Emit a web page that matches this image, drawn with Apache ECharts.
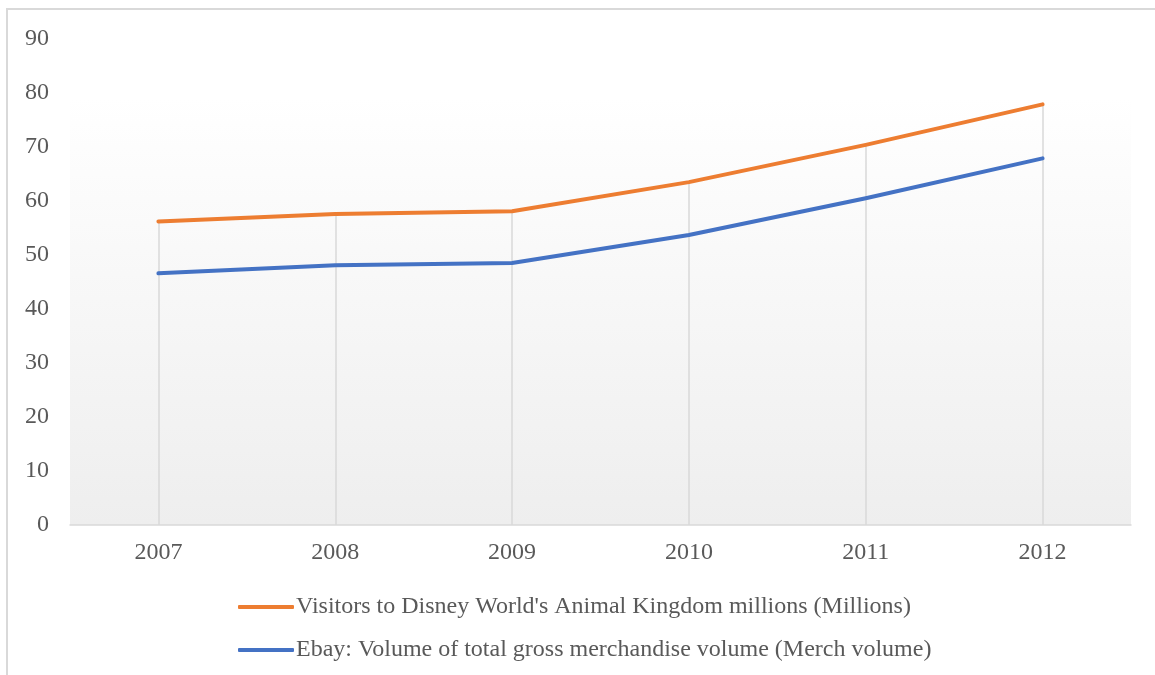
<!DOCTYPE html>
<html>
<head>
<meta charset="utf-8">
<script src="https://cdn.jsdelivr.net/npm/echarts@6/dist/echarts.min.js"></script>
<style>html,body{margin:0;padding:0;background:#fff;}#c{width:1155px;height:675px;}</style>
</head>
<body>
<div id="c"></div>
<script>
var categories = ['2007', '2008', '2009', '2010', '2011', '2012'];
var visitorsName = "Visitors to Disney World's Animal Kingdom millions (Millions)";
var ebayName = 'Ebay: Volume of total gross merchandise volume (Merch volume)';
var visitors = [56.2, 57.6, 58.1, 63.5, 70.4, 77.9];
var ebay = [46.6, 48.1, 48.5, 53.7, 60.5, 67.9];
var yTicks = [0, 10, 20, 30, 40, 50, 60, 70, 80, 90];

var chart = echarts.init(document.getElementById('c'), null, {renderer: 'canvas'});
var FONT = '"Liberation Serif", "Times New Roman", serif';
var dropLines = visitors.map(function (v, i) {
  return [{coord: [i, 0]}, {coord: [i, v]}];
});
chart.setOption({
  animation: false,
  backgroundColor: '#ffffff',
  graphic: [{
    type: 'rect', z: -10,
    shape: {x: 7, y: 9, width: 1300, height: 900},
    style: {fill: 'none', stroke: '#d9d9d9', lineWidth: 2}
  }],
  grid: {
    left: 70, right: 24, top: 39, bottom: 150,
    show: true, borderWidth: 0,
    backgroundColor: new echarts.graphic.LinearGradient(0, 0, 0, 1, [
      {offset: 0, color: '#ffffff'}, {offset: 0.12, color: '#ffffff'}, {offset: 1, color: '#eeeeee'}
    ])
  },
  legend: {
    orient: 'vertical', left: 233, top: 590, itemGap: 19,
    itemWidth: 56, itemHeight: 4,
    icon: 'roundRect',
    textStyle: {fontFamily: FONT, fontSize: 24, color: '#595959', padding: [0, 0, 0, -3]},
    data: [visitorsName, ebayName]
  },
  xAxis: {
    type: 'category', data: categories, boundaryGap: true,
    axisLine: {lineStyle: {color: '#d9d9d9', width: 1.5}},
    axisTick: {show: false},
    axisLabel: {fontFamily: FONT, fontSize: 24, color: '#595959', margin: 16},
    splitLine: {show: false}
  },
  yAxis: {
    type: 'value', min: 0, max: 90, interval: 10,
    axisLine: {show: false}, axisTick: {show: false},
    splitLine: {show: false},
    axisLabel: {fontFamily: FONT, fontSize: 24, color: '#595959', margin: 21,
      formatter: function (v) { return yTicks.indexOf(v) >= 0 ? String(v) : ''; }}
  },
  series: [{
    name: visitorsName, type: 'line', data: visitors,
    symbol: 'none', lineStyle: {color: '#ED7D31', width: 4, cap: 'round', join: 'round'},
    itemStyle: {color: '#ED7D31'}, z: 3,
    markLine: {
      silent: true, symbol: ['none', 'none'], label: {show: false},
      lineStyle: {color: '#d9d9d9', width: 1.5, type: 'solid'},
      data: dropLines, z: 1
    }
  }, {
    name: ebayName, type: 'line', data: ebay,
    symbol: 'none', lineStyle: {color: '#4472C4', width: 4, cap: 'round', join: 'round'},
    itemStyle: {color: '#4472C4'}, z: 4
  }]
});
</script>
</body>
</html>
